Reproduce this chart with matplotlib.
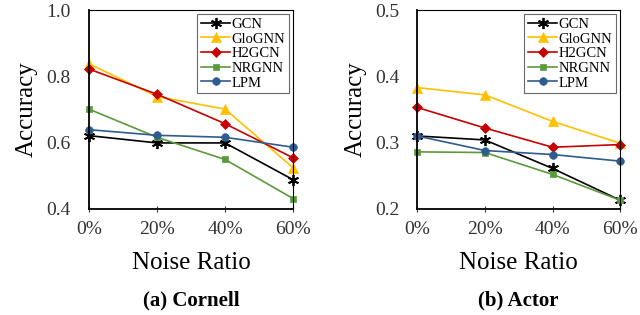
import matplotlib.pyplot as plt

plt.rcParams['font.family'] = ['Liberation Serif', 'DejaVu Serif']

# noise ratios (%)
noise = [0, 20, 40, 60]
noise_labels = ['0%', '20%', '40%', '60%']

methods = ['GCN', 'GloGNN', 'H2GCN', 'NRGNN', 'LPM']

# Cornell accuracy
cornell_gcn = [0.621, 0.599, 0.599, 0.488]
cornell_glognn = [0.838, 0.739, 0.701, 0.524]
cornell_h2gcn = [0.822, 0.746, 0.657, 0.554]
cornell_nrgnn = [0.701, 0.616, 0.549, 0.431]
cornell_lpm = [0.639, 0.622, 0.616, 0.586]

# Actor accuracy
actor_gcn = [0.310, 0.304, 0.261, 0.213]
actor_glognn = [0.383, 0.372, 0.332, 0.299]
actor_h2gcn = [0.353, 0.322, 0.293, 0.297]
actor_nrgnn = [0.286, 0.285, 0.252, 0.213]
actor_lpm = [0.310, 0.288, 0.282, 0.272]

colors = ['#000000', '#FFC000', '#C80000', '#5A9A3C', '#2E5C8E']
markers = [(6, 2, 0), '^', 'D', 's', 'o']
msizes = [8, 7, 5, 5, 5.5]

fig = plt.figure(figsize=(6.4, 3.15), dpi=100)
ax1 = fig.add_axes([0.139, 0.337, 0.319, 0.631])
ax2 = fig.add_axes([0.652, 0.337, 0.317, 0.631])


def draw(ax, series, ylim, yticks, title):
    for name, vals, c, m, s in zip(methods, series, colors, markers, msizes):
        ax.plot(noise, vals, color=c, marker=m, markersize=s, linewidth=1.2,
                label=name, clip_on=False, markeredgewidth=1.3 if name == 'GCN' else 0.5)
    ax.set_xlim(0, 60)
    ax.set_ylim(*ylim)
    ax.set_xticks(noise)
    ax.set_xticklabels(noise_labels)
    ax.set_yticks(yticks)
    ax.set_yticklabels(['%.1f' % v for v in yticks])
    ax.tick_params(axis='x', direction='inout', length=5, labelsize=14, pad=6,
                   color='#333333', labelcolor='#333333')
    ax.tick_params(axis='y', length=0, labelsize=14, pad=13, labelcolor='#333333')
    for sp in ['top', 'right']:
        ax.spines[sp].set_linewidth(0.8)
    for sp in ['left', 'bottom']:
        ax.spines[sp].set_linewidth(1.3)
    ax.set_ylabel('Accuracy', fontsize=18, labelpad=6)
    ax.set_xlabel('Noise Ratio', fontsize=18, labelpad=10)
    leg = ax.legend(loc='upper right', fontsize=10.5, frameon=True, fancybox=False,
                    edgecolor='#444444', handlelength=2.0, handletextpad=0.1,
                    labelspacing=0.1, borderpad=0.25, bbox_to_anchor=(0.98, 0.98),
                    borderaxespad=0)
    leg.get_frame().set_linewidth(0.8)
    ax.text(0.5, -0.46, title, transform=ax.transAxes, ha='center', va='center',
            fontsize=15, fontweight='bold')


draw(ax1, [cornell_gcn, cornell_glognn, cornell_h2gcn, cornell_nrgnn, cornell_lpm],
     (0.4, 1.0), [0.4, 0.6, 0.8, 1.0], '(a) Cornell')
draw(ax2, [actor_gcn, actor_glognn, actor_h2gcn, actor_nrgnn, actor_lpm],
     (0.2, 0.5), [0.2, 0.3, 0.4, 0.5], '(b) Actor')

fig.savefig('out.png', dpi=100)
